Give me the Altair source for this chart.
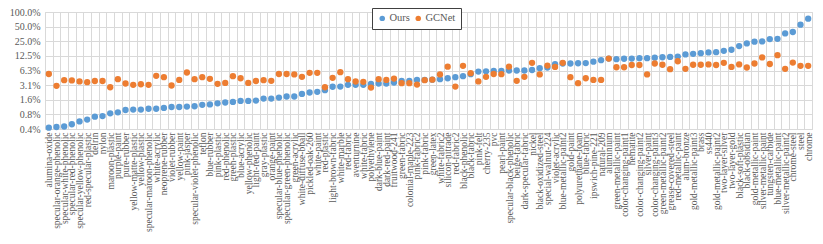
import altair as alt
import pandas as pd

materials = [
    "alumina-oxide", "specular-orange-phenolic", "specular-white-phenolic", "specular-red-phenolic",
    "specular-yellow-phenolic", "red-specular-plastic", "delrin", "nylon", "maroon-plastic",
    "purple-paint", "pure-rubber", "yellow-matte-plastic", "yellow-plastic", "specular-maroon-phenolic",
    "white-acrylic", "neoprene-rubber", "violet-rubber", "yellow-paint", "pink-jasper",
    "specular-violet-phenolic", "teflon", "blue-rubber", "pink-plastic", "red-phenolic", "green-plastic",
    "blue-acrylic", "yellow-phenolic", "light-red-paint", "gray-plastic", "orange-paint",
    "specular-blue-phenolic", "specular-green-phenolic", "green-acrylic", "white-diffuse-bball",
    "pickled-oak-260", "white-paint", "red-plastic", "light-brown-fabric", "white-marble", "red-fabric",
    "aventurnine", "white-fabric", "polyethylene", "dark-blue-paint", "dark-red-paint", "fruitwood-241",
    "green-fabric", "colonial-maple-223", "pink-fabric2", "pink-fabric", "green-latex", "white-fabric2",
    "silicon-nitrade", "red-fabric2", "black-phenolic", "black-fabric", "pink-felt", "cherry-235", "pvc",
    "pearl-paint", "specular-black-phenolic", "beige-fabric", "dark-specular-fabric", "nickel",
    "black-oxidized-steel", "special-walnut-224", "violet-acrylic", "blue-metallic-paint2", "gold-paint",
    "polyurethane-foam", "blue-fabric", "ipswich-pine-221", "natural-209", "aluminium",
    "green-metallic-paint", "color-changing-paint1", "hematite", "color-changing-paint2", "silver-paint",
    "color-changing-paint3", "green-metallic-paint2", "grease-covered-steel", "red-metallic-paint",
    "alum-bronze", "gold-metallic-paint3", "brass", "ss440", "gold-metallic-paint2", "two-layer-silver",
    "two-layer-gold", "black-soft-plastic", "black-obsidian", "gold-metallic-paint",
    "silver-metallic-paint", "tungsten-carbide", "blue-metallic-paint", "silver-metallic-paint2",
    "chrome-steel", "steel", "chrome",
]

# error values in percent
ours = [
    0.416, 0.43, 0.44, 0.49, 0.56, 0.61, 0.70, 0.72, 0.82, 0.86,
    0.96, 0.98, 0.98, 1.02, 1.02, 1.06, 1.11, 1.11, 1.13, 1.15,
    1.23, 1.25, 1.32, 1.37, 1.41, 1.48, 1.48, 1.50, 1.65, 1.65,
    1.73, 1.82, 1.82, 2.06, 2.2, 2.27, 2.46, 2.89, 2.92, 3.17,
    3.17, 3.17, 3.3, 3.37, 3.37, 3.54, 3.83, 3.83, 4.0, 4.0,
    4.05, 4.15, 4.33, 4.56, 4.78, 5.25, 5.95, 6.0, 6.1, 6.1,
    6.25, 6.25, 6.25, 6.4, 6.98, 7.2, 8.4, 8.7, 8.7, 8.8,
    8.9, 9.5, 10.2, 11.0, 10.7, 10.9, 11.0, 11.2, 11.2, 11.5,
    11.7, 11.9, 12.1, 13.4, 13.8, 14.2, 14.7, 14.9, 15.9, 16.7,
    19.9, 22.6, 24.5, 24.8, 27.7, 28.0, 36.3, 38.7, 54.8, 72.8,
]

gcnet = [
    5.3, 3.02, 3.96, 3.9, 3.73, 3.6, 3.8, 3.8, 2.83, 4.15,
    3.37, 3.17, 3.26, 3.17, 4.85, 4.56, 3.07, 4.0, 5.68, 4.15,
    4.56, 4.21, 3.32, 3.47, 4.78, 4.33, 3.47, 3.8, 3.96, 3.83,
    5.3, 5.3, 5.2, 4.63, 5.6, 5.6, 2.83, 4.41, 5.78, 4.15,
    3.71, 3.66, 2.78, 4.15, 4.0, 4.27, 3.43, 3.43, 3.2, 3.96,
    4.05, 5.2, 7.5, 2.92, 7.8, 5.5, 3.73, 4.63, 5.3, 5.25,
    7.5, 3.83, 4.63, 9.0, 5.2, 7.9, 7.4, 9.0, 4.56, 3.43,
    4.33, 4.0, 4.0, 11.0, 7.3, 7.3, 8.1, 8.1, 5.2, 8.7,
    8.2, 6.67, 9.7, 6.76, 8.2, 8.2, 8.35, 8.1, 9.0, 7.4,
    8.35, 7.2, 8.7, 11.6, 8.5, 12.9, 6.76, 9.1, 7.8, 7.8,
]

series = ["Ours", "GCNet"]
colors = ["#5B9BD5", "#ED7D31"]
y_ticks = [0.00390625, 0.0078125, 0.015625, 0.03125, 0.0625, 0.125, 0.25, 0.5, 1.0]

rows = []
for name, vals in zip(series, [ours, gcnet]):
    for m, v in zip(materials, vals):
        rows.append({"material": m, "method": name, "value": v / 100.0})
df = pd.DataFrame(rows)

FONT = "Liberation Serif"
GRID = "#D9D9D9"
TXT = "#595959"

chart = alt.Chart(df).mark_point(filled=True, size=40, opacity=1).encode(
    x=alt.X(
        "material:N",
        sort=materials,
        scale=alt.Scale(type="band", paddingInner=0, paddingOuter=0),
        axis=alt.Axis(
            title=None, labelAngle=270, labelFont=FONT, labelFontSize=9.5, labelColor=TXT,
            labelPadding=3, labelOverlap=False, ticks=False, tickSize=0, domain=False,
            grid=True, gridColor=GRID, gridWidth=1, tickBand="extent", labelLimit=200,
        ),
    ),
    y=alt.Y(
        "value:Q",
        scale=alt.Scale(type="log", base=2, domain=[0.00390625, 1.0], nice=False),
        axis=alt.Axis(
            title=None, values=y_ticks, format=".1%", labelFont=FONT, labelFontSize=10,
            labelColor=TXT, labelPadding=5, ticks=False, tickSize=0, domain=False,
            grid=True, gridColor=GRID, gridWidth=1,
        ),
    ),
    color=alt.Color(
        "method:N",
        sort=series,
        scale=alt.Scale(domain=series, range=colors),
        legend=alt.Legend(
            title=None, orient="none", legendX=327, legendY=-4, direction="horizontal",
            symbolType="circle", symbolSize=30, labelFont=FONT, labelFontSize=10.5,
            labelColor=TXT, strokeColor="#404040", fillColor="white", padding=5,
            columnPadding=3, labelOffset=2,
        ),
    ),
    order=alt.Order("method_order:Q"),
).transform_calculate(
    method_order="datum.method === 'Ours' ? 0 : 1"
).properties(
    width=767,
    height=117,
    autosize=alt.AutoSizeParams(type="none"),
    padding={"left": 37, "top": 4, "right": 2, "bottom": 104},
    background="white",
).configure_view(stroke=GRID, strokeWidth=1)

chart.save("out.html", embed_options={"renderer": "svg", "actions": False})
